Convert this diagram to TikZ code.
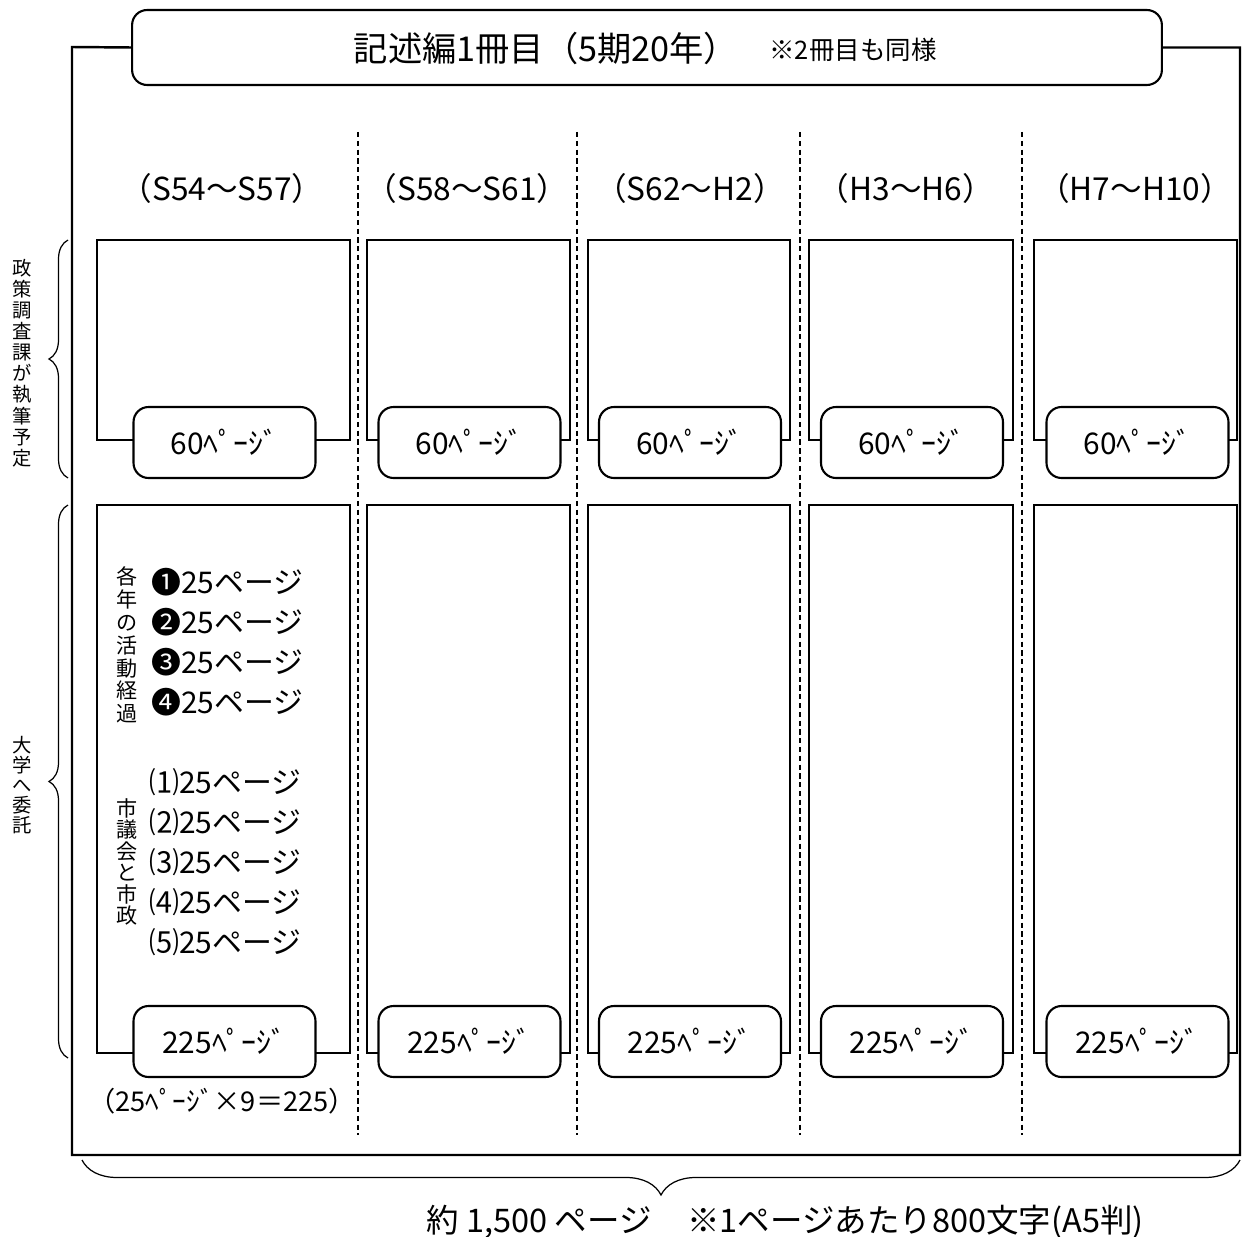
\documentclass[tikz,border=0pt]{standalone}
\usepackage{fontspec}
\setmainfont{Noto Sans CJK JP}
\usetikzlibrary{positioning,decorations.pathreplacing}
\tikzstyle{sheet} = [x = 0.02cm, y = -0.02cm]
\tikzstyle{frameLine} = [color=black, line width=1.4pt]
\tikzstyle{partLine} = [color=black, line width=1.1pt]
\tikzstyle{sepLine} = [color=black, line width=0.6pt, dash pattern=on 3pt off 2pt]
\tikzstyle{titleBox} = [draw=black, line width=1.2pt, fill=white, rounded corners=.3cm, minimum width=20.6cm, minimum height=1.5cm, inner sep=0pt]
\tikzstyle{pageBox} = [draw=black, line width=1.2pt, fill=white, rounded corners=.3cm, minimum width=3.64cm, minimum height=1.42cm, inner sep=0pt, font=\fontsize{17}{17}\selectfont]
\tikzstyle{headText} = [font=\fontsize{18}{19}\selectfont, inner sep=0pt]
\tikzstyle{itemText} = [font=\fontsize{17}{18}\selectfont, anchor=west, inner sep=0pt]
\tikzstyle{tateText} = [align=center, inner sep=0pt]
\tikzstyle{braceLine} = [color=black, line width=0.7pt, decorate]
\newcommand{\periodColumn}[6]{
  \node [headText] (head#1) at (#5, 188) {#6};
  \draw [partLine] (#2, 240) rectangle (#3, 440);
  \node [pageBox] (upper#1) at (#4, 442.5) {60ﾍﾟｰｼﾞ};
  \draw [partLine] (#2, 505) rectangle (#3, 1053);
  \node [pageBox] (lower#1) at (#4, 1041.5) {225ﾍﾟｰｼﾞ};
}

\begin{document}
\begin{tikzpicture}[sheet]
  \useasboundingbox (0,0) rectangle (1252,1237);
  % title and outer frame
  \node [titleBox] (title) at (647, 47.5) {};
  \node [font=\fontsize{19.5}{21}\selectfont, inner sep=0pt] (titleMain) at (546, 48) {記述編1冊目（5期20年）};
  \node [font=\fontsize{14.5}{16}\selectfont, inner sep=0pt] (titleNote) at (853, 50) {※2冊目も同様};
  \draw [frameLine] (title.west) -- (72, 47) |- (1240, 1155) |- (title.east);
  % period columns
  \foreach \sep in {358, 577, 800, 1022}
    \draw [sepLine] (\sep, 132) -- (\sep, 1135);
  \periodColumn{1}{97}{350}{224.5}{222}{（S54～S57）}
  \periodColumn{2}{367}{570}{469.5}{467}{（S58～S61）}
  \periodColumn{3}{588}{790}{690}{690}{（S62～H2）}
  \periodColumn{4}{809}{1013}{912}{906}{（H3～H6）}
  \periodColumn{5}{1034}{1237}{1137.5}{1135}{（H7～H10）}
  % contents of the first column
  \node [tateText, font=\fontsize{12}{13}\selectfont] (activity) at (127, 645) {各\\年\\の\\活\\動\\経\\過};
  \node [tateText, font=\fontsize{12}{12.2}\selectfont] (council) at (127, 862) {市\\議\\会\\と\\市\\政};
  \foreach \mark [count=\i] in {❶, ❷, ❸, ❹}
    \node [itemText] (activity\i) at (151, 542 + 40 * \i) {\mark 25ページ};
  \foreach \mark [count=\i] in {⑴, ⑵, ⑶, ⑷, ⑸}
    \node [itemText] (council\i) at (149, 742 + 40 * \i) {\mark 25ページ};
  \node [font=\fontsize{15.5}{16}\selectfont, inner sep=0pt] (calc) at (222, 1101) {（25ﾍﾟｰｼﾞ×9＝225）};
  % braces and their labels
  \coordinate (staffTop) at (68, 240);
  \coordinate (staffBottom) at (68, 478);
  \coordinate (univTop) at (68, 505);
  \coordinate (univBottom) at (68, 1058);
  \coordinate (totalLeft) at (82, 1160);
  \coordinate (totalRight) at (1240, 1160);
  \draw [braceLine, decoration={brace, amplitude=0.38cm}] (staffBottom) -- (staffTop);
  \draw [braceLine, decoration={brace, amplitude=0.38cm}] (univBottom) -- (univTop);
  \draw [braceLine, decoration={brace, amplitude=0.7cm}] (totalRight) -- (totalLeft);
  \node [tateText, font=\fontsize{11}{12}\selectfont] (staff) at (22, 363) {政\\策\\調\\査\\課\\が\\執\\筆\\予\\定};
  \node [tateText, font=\fontsize{11}{11.5}\selectfont] (univ) at (22, 785) {大\\学\\へ\\委\\託};
  \node [font=\fontsize{18.5}{20}\selectfont, inner sep=0pt] (total) at (785, 1222) {約 1,500 ページ\hspace{1.1em}※1ページあたり800文字(A5判)};
\end{tikzpicture}
\end{document}
